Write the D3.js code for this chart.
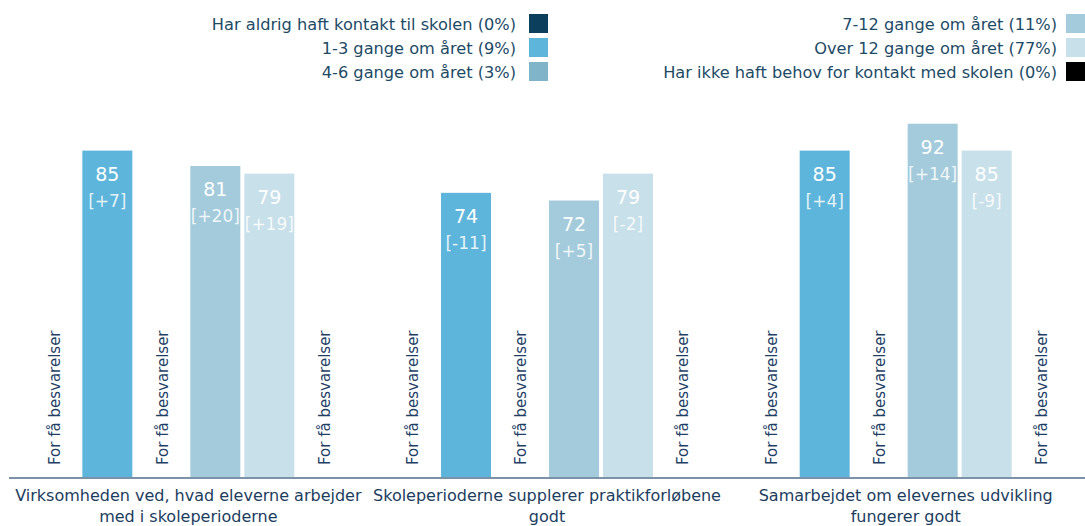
<!DOCTYPE html>
<meta charset="utf-8">
<style>
body { margin: 0; background: #fff; }
svg { font-family: "DejaVu Sans", Verdana, sans-serif; display: block; }
</style>
<svg width="1085" height="526"></svg>
<script src="https://cdn.jsdelivr.net/npm/d3@7"></script>
<script>

// categories along the x axis (two lines each)
var questions = [
  ["Virksomheden ved, hvad eleverne arbejder", "med i skoleperioderne"],
  ["Skoleperioderne supplerer praktikforløbene", "godt"],
  ["Samarbejdet om elevernes udvikling", "fungerer godt"]
];

// answer groups (legend order)
var series = [
  "Har aldrig haft kontakt til skolen (0%)",
  "1-3 gange om året (9%)",
  "4-6 gange om året (3%)",
  "7-12 gange om året (11%)",
  "Over 12 gange om året (77%)",
  "Har ikke haft behov for kontakt med skolen (0%)"
];
var colors = ["#0b3f5c", "#5eb5db", "#80b5c9", "#a4cbdb", "#c8e0ea", "#000000"];

// values per question, null = "For få besvarelser"
var values = [
  [null, 85, null, 81, 79, null],
  [null, 74, null, 72, 79, null],
  [null, 85, null, 92, 85, null]
];
var changes = [
  [null, "+7", null, "+20", "+19", null],
  [null, "-11", null, "+5", "-2", null],
  [null, "+4", null, "+14", "-9", null]
];
var tooFew = "For få besvarelser";

var svg = d3.select("svg");

var x0 = d3.scaleBand().domain(d3.range(questions.length))
    .range([9, 1085]).paddingInner(0.108).paddingOuter(0.054);
var x1 = d3.scaleBand().domain(d3.range(series.length))
    .range([0, x0.bandwidth()]).paddingInner(0.074);
var y = d3.scaleLinear().domain([0, 100]).range([477, 93]);

var groups = svg.selectAll("g.grp")
  .data(values)
  .enter().append("g")
    .attr("class", "grp")
    .attr("transform", function(d, i) { return "translate(" + x0(i) + ",0)"; });

groups.each(function(vals, qi) {
  var g = d3.select(this);
  vals.forEach(function(v, si) {
    var cx = x1(si) + x1.bandwidth() / 2;
    if (v == null) {
      g.append("text")
        .attr("transform", "translate(" + (cx + 1) + "," + (y(0) - 12) + ") rotate(-90)")
        .attr("dy", "0.35em")
        .style("font-size", "15px")
        .style("fill", "#1f3f66")
        .text(tooFew);
      return;
    }
    g.append("rect")
      .attr("x", x1(si))
      .attr("y", y(v))
      .attr("width", x1.bandwidth())
      .attr("height", y(0) - y(v))
      .attr("fill", colors[si]);
    g.append("text")
      .attr("x", cx)
      .attr("y", y(v) + 30)
      .attr("text-anchor", "middle")
      .style("font-size", "19px")
      .style("fill", "#fff")
      .text(v);
    g.append("text")
      .attr("x", cx)
      .attr("y", y(v) + 56)
      .attr("text-anchor", "middle")
      .style("font-size", "17px")
      .style("fill", "#fff")
      .style("fill-opacity", 0.85)
      .text("[" + changes[qi][si] + "]");
  });
});

// baseline
svg.append("line")
  .attr("x1", 9).attr("x2", 1085)
  .attr("y1", 478).attr("y2", 478)
  .attr("stroke", "#4f6e8c")
  .attr("stroke-width", 1.5);

// question labels
var qlab = svg.selectAll("text.q")
  .data(questions)
  .enter().append("text")
    .attr("class", "q")
    .attr("text-anchor", "middle")
    .style("font-size", "16px")
    .style("fill", "#1b3d5e")
    .attr("transform", function(d, i) { return "translate(" + (x0(i) + x0.bandwidth() / 2) + ",0)"; });
qlab.selectAll("tspan")
  .data(function(d) { return d; })
  .enter().append("tspan")
    .attr("x", 0)
    .attr("y", function(d, i) { return 501 + i * 21; })
    .text(function(d) { return d; });

// legend: two columns, text right aligned against the swatch
var legendCols = [{ swatchX: 529, gap: 13 }, { swatchX: 1066, gap: 9 }];
var legend = svg.selectAll("g.leg")
  .data(series)
  .enter().append("g")
    .attr("class", "leg")
    .attr("transform", function(d, i) {
      var c = legendCols[Math.floor(i / 3)];
      return "translate(" + c.swatchX + "," + (14 + (i % 3) * 24) + ")";
    });
legend.append("rect")
  .attr("width", 19).attr("height", 19)
  .attr("fill", function(d, i) { return colors[i]; });
legend.append("text")
  .attr("x", function(d, i) { return -legendCols[Math.floor(i / 3)].gap; })
  .attr("y", 10)
  .attr("dy", "0.35em")
  .attr("text-anchor", "end")
  .style("font-size", "16.2px")
  .style("fill", "#1d4b66")
  .text(function(d) { return d; });

</script>
